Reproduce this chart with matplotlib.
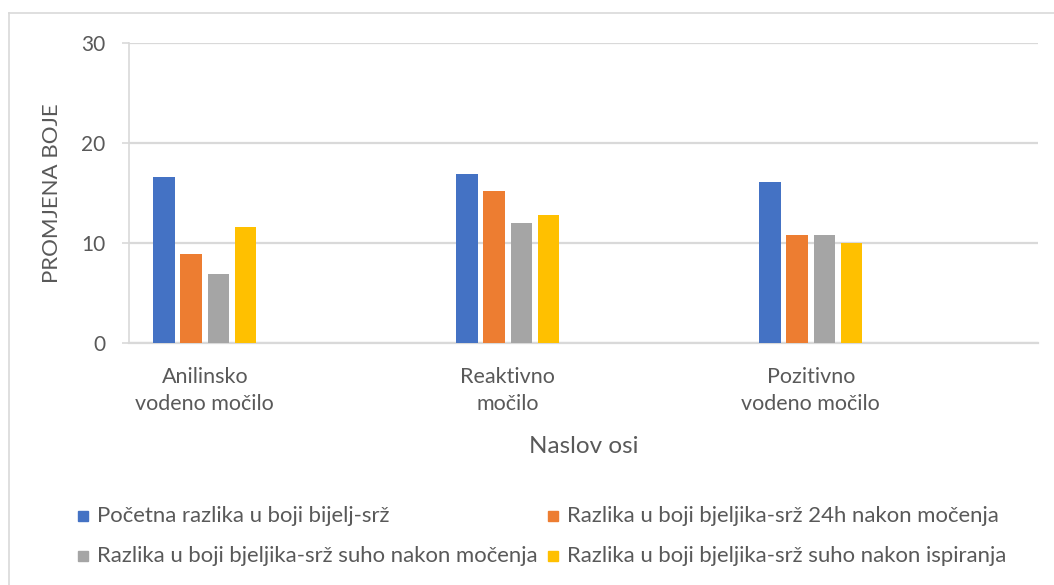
import numpy as np
import matplotlib
matplotlib.use('Agg')
import matplotlib.pyplot as plt
from matplotlib.patches import Rectangle
from matplotlib.lines import Line2D

categories = ['Anilinsko\nvodeno močilo', 'Reaktivno\nmočilo', 'Pozitivno\nvodeno močilo']
series_names = ['Početna razlika u boji bijelj-srž',
                'Razlika u boji bjeljika-srž 24h nakon močenja',
                'Razlika u boji bjeljika-srž suho nakon močenja',
                'Razlika u boji bjeljika-srž suho nakon ispiranja']
pocetna = [16.6, 16.9, 16.1]
nakon_24h = [8.9, 15.2, 10.8]
suho_mocenje = [6.9, 12.0, 10.8]
suho_ispiranje = [11.6, 12.8, 10.0]
colors = ['#4472C4', '#ED7D31', '#A5A5A5', '#FFC000']

plt.rcParams['font.family'] = ['Lato', 'DejaVu Sans']
txt = '#595959'
grid = '#D9D9D9'

W, H = 1054, 585
fig = plt.figure(figsize=(W / 100, H / 100), dpi=100)
ax = fig.add_axes([129 / W, 1 - 343 / H, (1038 - 129) / W, 300 / H])

values = [pocetna, nakon_24h, suho_mocenje, suho_ispiranje]
centers = np.arange(len(categories)) + 0.25
pitch = 0.09
width = 0.071
for i, vals in enumerate(values):
  ax.bar(centers + (i - 1.5) * pitch, vals, width, color=colors[i], zorder=3)

ax.set_xlim(0, 3)
ax.set_ylim(0, 30)
ax.set_yticks([0, 10, 20, 30])
ax.set_xticks(centers)
ax.set_xticklabels(categories, fontsize=15.5, color=txt, linespacing=1.45)
ax.tick_params(axis='x', length=0, pad=17)
ax.tick_params(axis='y', length=5, width=1.2, color=grid, labelsize=15, labelcolor=txt, pad=12)
ax.yaxis.grid(True, color=grid, linewidth=1.6, zorder=0)
for s in ['top', 'right']:
  ax.spines[s].set_visible(False)
ax.spines['left'].set_color(grid)
ax.spines['left'].set_linewidth(1.2)
ax.spines['bottom'].set_color(grid)
ax.spines['bottom'].set_linewidth(1.6)
ax.set_ylabel('PROMJENA BOJE', fontsize=16, color=txt, labelpad=14)
ax.set_xlabel('Naslov osi', fontsize=17.5, color=txt, labelpad=16)

# legend, two columns
col_x = [78, 548]
row_y = [516, 556]
for i, name in enumerate(series_names):
  x = col_x[i % 2]
  y = row_y[i // 2]
  fig.patches.append(Rectangle((x / W, 1 - (y + 5) / H), 10 / W, 10 / H,
                               transform=fig.transFigure, color=colors[i]))
  fig.text((x + 19) / W, 1 - y / H, name, fontsize=15.9, color=txt, va='center', ha='left')

# outer chart border
fig.lines.append(Line2D([8.5 / W, 8.5 / W], [0, 1 - 13 / H], transform=fig.transFigure, color=grid, linewidth=1.2))
fig.lines.append(Line2D([8.5 / W, 1], [1 - 13 / H, 1 - 13 / H], transform=fig.transFigure, color=grid, linewidth=1.2))

fig.savefig('out.png', dpi=100)
